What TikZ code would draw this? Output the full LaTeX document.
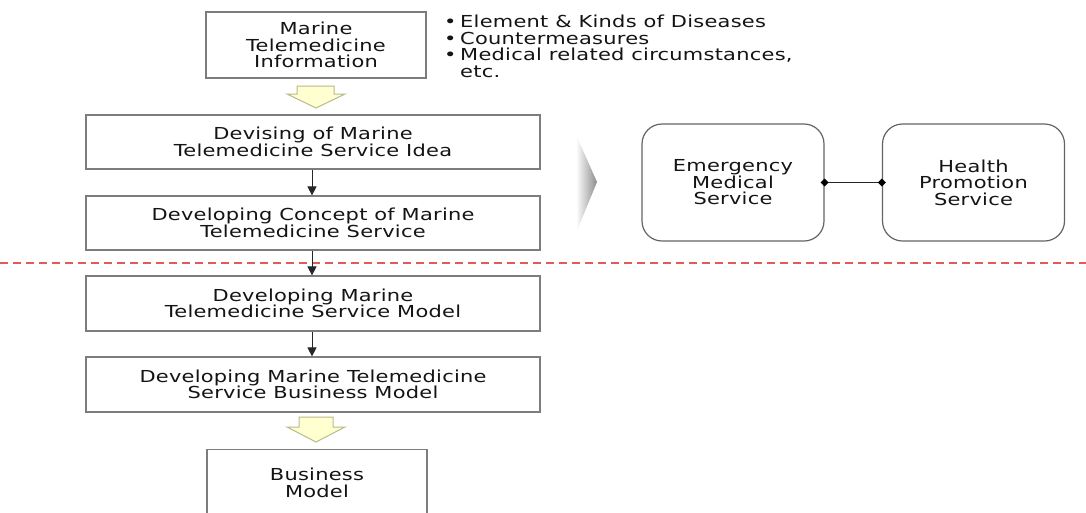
\documentclass[tikz,border=0pt]{standalone}
\usepackage{fontspec}
\usetikzlibrary{arrows.meta}
\newfontfamily\diagfont[FakeStretch=1.27,LetterSpace=1.5]{DejaVu Sans}
\definecolor{ink}{RGB}{20,20,20}
\definecolor{boxline}{RGB}{125,125,125}
\definecolor{roundline}{RGB}{100,100,100}
\definecolor{sepred}{RGB}{228,90,90}
\definecolor{arrowfill}{RGB}{255,255,208}
\definecolor{arrowline}{RGB}{185,185,140}
\begin{document}
\begin{tikzpicture}[x=1pt,y=-1pt,
  every node/.style={font=\diagfont\fontsize{16.5}{16.5}\selectfont, text=ink},
  stagebox/.style={draw=boxline, line width=1.2pt, fill=white, inner sep=0pt, align=center},
  servicebox/.style={draw=roundline, line width=1.2pt, fill=white, rounded corners=20pt,
    inner sep=0pt, align=center, minimum width=182pt, minimum height=117pt},
  flow/.style={draw=black!85, line width=0.9pt, -{Triangle[length=9pt,width=9pt]}},
  blockarrow/.style={draw=arrowline, fill=arrowfill, line width=1pt, line join=miter},
  separator/.style={draw=sepred, line width=1.3pt, dash pattern=on 8pt off 5pt},
  linkdot/.style={fill=black}]

\clip (0,0) rectangle (1086,512);
\fill[white] (0,0) rectangle (1086,512);

% separator between concept and model phases
\coordinate (sepL) at (0,263);
\coordinate (sepR) at (1086,263);
\draw[separator] (sepL) -- (sepR);

% left column of stages
\node[stagebox, minimum width=220pt, minimum height=66pt] (info) at (316,45)
  {Marine\\Telemedicine\\Information};
\node[stagebox, minimum width=454pt, minimum height=54pt] (idea) at (313,142)
  {Devising of Marine\\Telemedicine Service Idea};
\node[stagebox, minimum width=454pt, minimum height=54pt] (concept) at (313,223)
  {Developing Concept of Marine\\Telemedicine Service};
\node[stagebox, minimum width=454pt, minimum height=55pt] (model) at (313,303.5)
  {Developing Marine\\Telemedicine Service Model};
\node[stagebox, minimum width=454pt, minimum height=55pt] (bizdev) at (313,384.5)
  {Developing Marine Telemedicine\\Service Business Model};
\node[stagebox, minimum width=220pt, minimum height=66pt, anchor=north] (biz) at (317,449)
  {Business\\Model};

% notes beside the information box
\node[anchor=north west, align=left, inner sep=0pt] (notes) at (444,15)
  {\makebox[16pt][l]{•}Element \& Kinds of Diseases\\
   \makebox[16pt][l]{•}Countermeasures\\
   \makebox[16pt][l]{•}Medical related circumstances,\\
   \makebox[16pt][l]{}etc.};

% block arrows
\draw[blockarrow] (297,86) -- (334,86) -- (334,94) -- (345,94) -- (316,108)
  -- (287,94) -- (297,94) -- cycle;
\draw[blockarrow] (299,417) -- (333,417) -- (333,427) -- (345,427) -- (316,442)
  -- (287,427) -- (299,427) -- cycle;

% thin flow arrows
\draw[flow] (idea.south -| 312,0) -- (concept.north -| 312,0);
\draw[flow] (concept.south -| 312,0) -- (model.north -| 312,0);
\draw[flow] (model.south -| 312,0) -- (bizdev.north -| 312,0);

% chevron pointing to the service types
\shade[left color=white, right color=black!45]
  (576,135) -- (597,182) -- (576,233) -- cycle;

% service types
\node[servicebox] (ems) at (733,182.5) {Emergency\\Medical\\Service};
\node[servicebox] (hps) at (973.5,182.5) {Health\\Promotion\\Service};
\draw[black!85, line width=1pt] (ems.east) -- (hps.west);
\fill[linkdot] (ems.east) ++(-4,0) -- ++(4,-4) -- ++(4,4) -- ++(-4,4) -- cycle;
\fill[linkdot] (hps.west) ++(-4,0) -- ++(4,-4) -- ++(4,4) -- ++(-4,4) -- cycle;

\end{tikzpicture}
\end{document}
